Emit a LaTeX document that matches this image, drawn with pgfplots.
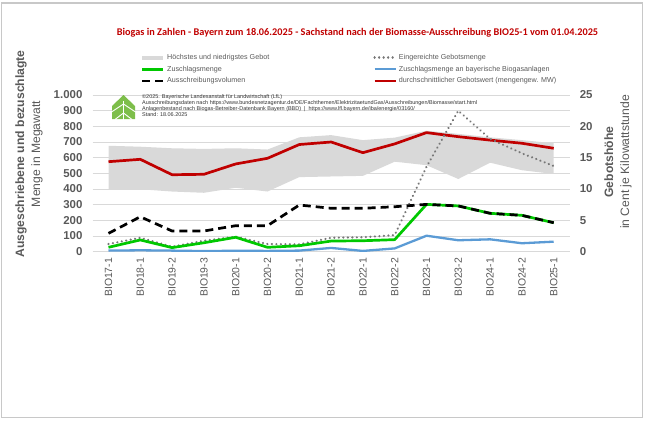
\documentclass[border=0pt]{standalone}
\usepackage{pgfplots}
\pgfplotsset{compat=1.18}
\usepackage{pgfplotstable}
\usepackage{fontspec}
\setmainfont{Liberation Sans}
\newfontfamily\titlefont{Carlito}

\definecolor{lflred}{HTML}{C00000}
\definecolor{lflgreen}{RGB}{0,200,0}
\definecolor{lflblue}{HTML}{5B9BD5}
\definecolor{bandgray}{HTML}{D9D9D9}
\definecolor{dotgray}{HTML}{767676}
\definecolor{tickgray}{HTML}{595959}
\definecolor{gridgray}{HTML}{D9D9D9}
\definecolor{framegray}{HTML}{C8C8C8}
\definecolor{logogreen}{HTML}{7DBE4A}

% x: index, avg in ct/kWh (right axis), eing/zus/zusby/vol in MW (left axis)
\pgfplotstableread{
x  avg   eing zus zusby vol
0  14.36 49   28  7     117
1  14.74 89   75  9     223
2  12.28 32   26  7     132
3  12.35 70   57  4     132
4  14.0  96   92  6     166
5  14.9  49   28  5     166
6  17.1  47   38  7     298
7  17.5  89   68  24    277
8  15.8  92   70  5     277
9  17.2  106  77  21    287
10 19.0  542  302 102   302
11 18.35 900  292 73    292
12 17.8  720  245 79    245
13 17.3  628  232 54    232
14 16.5  547  185 64    185
}\data

% highest bids (forward) then lowest bids (backward), ct/kWh
\pgfplotstableread{
x  y
0  16.9
1  16.75
2  16.5
3  16.4
4  16.5
5  16.3
6  18.25
7  18.6
8  17.8
9  18.2
10 19.3
11 18.8
12 18.25
13 17.8
14 17.3
14 12.4
13 13.0
12 14.2
11 11.6
10 13.8
9  14.36
8  12.1
7  12.0
6  11.9
5  9.6
4  10.2
3  9.4
2  9.6
1  9.96
0  9.96
}\band

\pgfplotsset{
  myaxis/.style={
    scale only axis, width=477bp, height=156.7bp,
    at={(92.6bp,-251.7bp)}, anchor=south west,
    xmin=-0.5, xmax=14.5,
    major tick length=0pt,
    axis line style={draw=none},
    tick label style={font=\fontsize{11.5}{12}\selectfont\bfseries, text=tickgray, inner sep=0pt},
    yticklabel shift=10bp,
  },
  legend image code/.code={\draw[#1] (0bp,0bp) -- (21bp,0bp);},
}

\begin{document}
\begin{tikzpicture}
\path (0,0) rectangle (646bp,-421bp);
\draw[framegray, line width=1.5bp] (1.5bp,-3bp) rectangle (642.5bp,-417.5bp);

\node[font=\titlefont\fontsize{10.3}{12}\selectfont\bfseries, text=lflred] at (357.5bp,-33bp)
  {Biogas in Zahlen - Bayern zum 18.06.2025 - Sachstand nach der Biomasse-Ausschreibung BIO25-1 vom 01.04.2025};

% ---------- right axis: bid values in ct/kWh ----------
\begin{axis}[myaxis,
  ymin=0, ymax=25,
  xtick=\empty,
  yticklabel pos=right,
  ytick={0,2.5,5,7.5,10,12.5,15,17.5,20,22.5,25},
  yticklabels={0,,5,,10,,15,,20,,25},
  ymajorgrids, grid style={gridgray, line width=0.8bp},
  ylabel style={at={(axis description cs:1.1015,0.572)}, anchor=center, rotate=0, align=center,
     font=\fontsize{12.2}{16}\selectfont, text=tickgray},
  ylabel={\bfseries Gebotshöhe\\in Cent je Kilowattstunde},
]
\addplot[fill=bandgray, draw=none, forget plot] table[x=x, y=y] {\band} -- cycle;
\addplot[lflred, line width=2.7bp, line join=round, forget plot] table[x=x, y=avg] {\data};
\end{axis}

% ---------- left axis: volumes in MW ----------
\begin{axis}[myaxis,
  ymin=0, ymax=1000,
  ytick={0,100,200,300,400,500,600,700,800,900,1000},
  yticklabels={0,100,200,300,400,500,600,700,800,900,1.000},
  xtick={0,...,14},
  xticklabels={BIO17-1,BIO18-1,BIO19-2,BIO19-3,BIO20-1,BIO20-2,BIO21-1,BIO21-2,BIO22-1,BIO22-2,BIO23-1,BIO23-2,BIO24-1,BIO24-2,BIO25-1},
  xticklabel style={rotate=90, anchor=east, font=\fontsize{10.5}{11}\selectfont},
  xticklabel shift=6bp,
  ylabel style={at={(axis description cs:-0.1333,0.623)}, anchor=center, align=center,
     font=\fontsize{12.2}{16}\selectfont, text=tickgray},
  ylabel={\bfseries Ausgeschriebene und bezuschlagte\\Menge in Megawatt},
  legend columns=2,
  legend cell align=left,
  legend style={at={(axis description cs:0.0994,1.2617)}, anchor=north west,
    draw=none, fill=none, inner sep=0pt, row sep=4.6bp,
    font=\fontsize{7.2}{8}\selectfont,
    nodes={inner sep=0pt, text height=5.4bp, text depth=1.6bp, text=tickgray},
    /tikz/every odd column/.append style={column sep=2bp},
    /tikz/every even column/.append style={column sep=104bp}},
]
\addlegendimage{bandgray, line width=4bp}
\addlegendentry{Höchstes und niedrigstes Gebot}
\addlegendimage{dotgray, line width=2.4bp, line cap=round, dash pattern=on 0.01bp off 4.5bp}
\addlegendentry{Eingereichte Gebotsmenge}
\addlegendimage{lflgreen, line width=2.7bp}
\addlegendentry{Zuschlagsmenge}
\addlegendimage{lflblue, line width=2.3bp}
\addlegendentry{Zuschlagsmenge an bayerische Biogasanlagen}
\addlegendimage{black, line width=2.7bp, dash pattern=on 8bp off 5bp}
\addlegendentry{Ausschreibungsvolumen}
\addlegendimage{lflred, line width=2.7bp}
\addlegendentry{durchschnittlicher Gebotswert (mengengew. MW)}

\addplot[dotgray, line width=2.4bp, line cap=round, line join=round, dash pattern=on 0.01bp off 4.5bp, forget plot]
  table[x=x, y=eing] {\data};
\addplot[lflgreen, line width=2.7bp, line join=round, forget plot] table[x=x, y=zus] {\data};
\addplot[lflblue, line width=2.3bp, line join=round, forget plot] table[x=x, y=zusby] {\data};
\addplot[black, line width=2.7bp, dash pattern=on 8bp off 5bp, forget plot] table[x=x, y=vol] {\data};
\end{axis}

% logo (stylised)
\fill[logogreen] (112bp,-106bp) -- (123.5bp,-95bp) -- (135bp,-106bp) -- (135bp,-119bp) -- (112bp,-119bp) -- cycle;
\draw[white, line width=0.9bp] (123.5bp,-101bp) -- (123.5bp,-119.5bp);
\draw[white, line width=0.9bp] (111.5bp,-112bp) -- (123.5bp,-104bp) -- (135.5bp,-112bp);
\draw[white, line width=0.9bp] (115bp,-119.5bp) -- (123.5bp,-113bp) -- (132bp,-119.5bp);

\node[anchor=north west, inner sep=0pt, align=left, font=\fontsize{5.5}{6}\selectfont, text=black!80] at (142bp,-94.5bp)
 {©2025. Bayerische Landesanstalt für Landwirtschaft (LfL)\\
  Ausschreibungsdaten nach https://www.bundesnetzagentur.de/DE/Fachthemen/ElektrizitaetundGas/Ausschreibungen/Biomasse/start.html\\
  Anlagenbestand nach Biogas-Betreiber-Datenbank Bayern (BBD) \ | \ https://www.lfl.bayern.de/iba/energie/03160/\\
  Stand: 18.06.2025};
\end{tikzpicture}
\end{document}
